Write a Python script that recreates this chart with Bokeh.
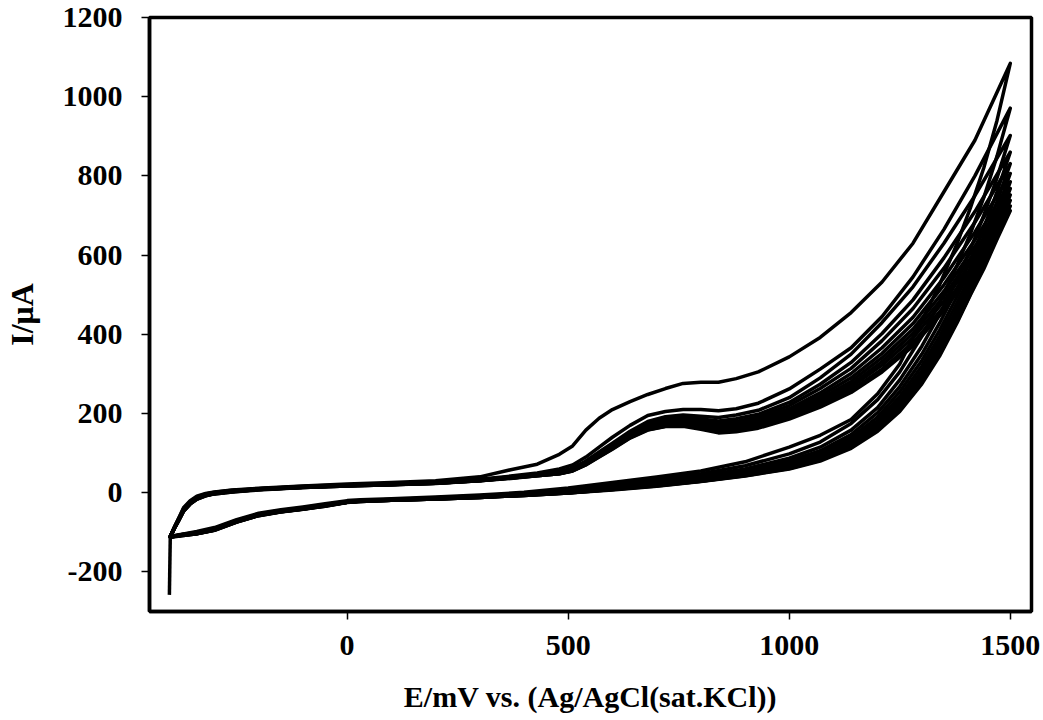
from bokeh.plotting import figure
from bokeh.models import Range1d, FixedTicker
from bokeh.embed import file_html
from bokeh.resources import INLINE

# Potential grids (mV vs Ag/AgCl) for the anodic and cathodic sweeps
fwd_E = [-400, -390, -380, -370, -355, -340, -320, -300, -260, -200, -100, 0,
         100, 200, 300, 370, 430, 480, 510, 540, 570, 600, 640, 680, 720, 760,
         800, 840, 880, 930, 1000, 1070, 1140, 1210, 1280, 1350, 1420, 1500]
rev_E = [1500, 1470, 1440, 1410, 1380, 1340, 1300, 1250, 1200, 1140, 1070,
         1000, 900, 800, 700, 600, 500, 400, 300, 200, 100, 30, 0, -50, -100,
         -150, -200, -250, -300, -340, -370, -390, -400]

# Initial potential step at the start of the first scan
start_E = [-402, -400]
start_I = [-258, -110]

# Current (uA) on the anodic sweep of each cycle
fwd_I = [
    [-110, -85, -62, -38, -20, -9, -2, 2, 7, 11, 17, 22, 26, 30, 40, 58, 72, 97, 118, 158, 188, 210, 230, 248, 263, 276, 279, 279, 288, 305, 343, 392, 455, 532, 630, 760, 890, 1084],
    [-110, -86, -63, -40, -22, -11, -3, 1, 6, 10, 16, 20, 23, 27, 34, 42, 50, 60, 70, 90, 115, 140, 170, 195, 205, 210, 210, 207, 212, 226, 262, 312, 366, 445, 545, 665, 800, 971],
    [-110, -86, -64, -42, -24, -12, -4, 0, 5, 10, 15, 19, 22, 26, 33, 40, 47, 53, 62, 80, 103, 125, 155, 180, 192, 196, 193, 190, 196, 208, 240, 290, 350, 430, 520, 630, 750, 902],
    [-110, -86, -65, -43, -25, -13, -4, 0, 5, 10, 15, 19, 22, 26, 33, 40, 46, 52, 60, 78, 100, 122, 151, 175, 186, 190, 186, 181, 187, 198, 228, 274, 329, 402, 487, 593, 710, 860],
    [-111, -87, -65, -44, -25, -13, -5, -1, 4, 9, 15, 19, 22, 25, 32, 39, 46, 51, 59, 76, 98, 119, 149, 172, 183, 186, 181, 176, 180, 191, 220, 263, 314, 384, 465, 567, 683, 831],
    [-111, -87, -66, -44, -26, -14, -5, -1, 4, 9, 14, 18, 21, 25, 32, 39, 45, 50, 58, 75, 96, 117, 146, 169, 179, 182, 176, 170, 175, 185, 212, 252, 301, 366, 443, 543, 658, 806],
    [-111, -87, -66, -45, -26, -14, -6, -1, 4, 9, 14, 18, 21, 25, 31, 38, 45, 50, 58, 74, 95, 116, 144, 166, 176, 179, 173, 166, 170, 180, 207, 244, 290, 352, 427, 525, 638, 785],
    [-111, -88, -67, -45, -27, -15, -6, -2, 3, 8, 14, 18, 21, 24, 31, 38, 44, 49, 57, 73, 94, 114, 143, 164, 174, 176, 170, 162, 166, 176, 202, 237, 281, 341, 413, 509, 622, 768],
    [-112, -88, -67, -46, -27, -15, -7, -2, 3, 8, 14, 18, 21, 24, 31, 37, 44, 49, 56, 72, 93, 113, 142, 163, 172, 174, 167, 159, 163, 172, 197, 232, 273, 331, 402, 496, 608, 752],
    [-112, -88, -68, -46, -28, -16, -7, -2, 3, 8, 13, 17, 20, 24, 30, 37, 43, 48, 56, 71, 92, 112, 140, 161, 170, 172, 165, 156, 160, 169, 194, 226, 267, 322, 391, 484, 595, 738],
    [-112, -89, -68, -47, -28, -16, -8, -3, 2, 8, 13, 17, 20, 24, 30, 37, 43, 48, 55, 71, 91, 111, 139, 159, 168, 170, 162, 153, 157, 165, 189, 220, 259, 312, 379, 470, 581, 724],
    [-112, -89, -69, -47, -29, -17, -8, -3, 2, 7, 13, 17, 20, 23, 30, 36, 43, 48, 55, 70, 90, 110, 138, 158, 167, 168, 160, 151, 154, 163, 186, 216, 253, 305, 370, 460, 570, 712],
]

# Current (uA) on the cathodic sweep of each cycle
rev_I = [
    [1084, 940, 820, 720, 630, 525, 435, 325, 250, 185, 145, 115, 78, 55, 40, 26, 12, 1, -6, -11, -15, -18, -20, -28, -36, -43, -52, -68, -88, -98, -104, -108, -110],
    [971, 850, 745, 655, 575, 480, 395, 305, 235, 175, 128, 98, 68, 48, 34, 22, 9, -1, -8, -13, -17, -20, -22, -30, -38, -45, -54, -70, -90, -100, -105, -109, -110],
    [902, 795, 700, 615, 540, 450, 370, 285, 215, 158, 115, 87, 60, 42, 29, 18, 6, -3, -9, -14, -17, -20, -23, -31, -39, -46, -55, -71, -91, -101, -105, -109, -111],
    [860, 760, 668, 588, 515, 428, 350, 268, 202, 147, 106, 80, 55, 38, 26, 15, 4, -4, -10, -14, -18, -21, -23, -31, -39, -46, -55, -71, -91, -101, -106, -109, -111],
    [831, 735, 645, 567, 496, 410, 334, 255, 191, 139, 100, 75, 52, 35, 24, 13, 3, -5, -10, -15, -18, -21, -23, -32, -40, -46, -56, -72, -92, -102, -106, -110, -111],
    [806, 712, 625, 550, 480, 395, 320, 243, 182, 132, 95, 71, 49, 33, 22, 12, 2, -5, -11, -15, -18, -21, -24, -32, -40, -47, -56, -72, -92, -102, -106, -110, -111],
    [785, 695, 610, 535, 465, 382, 308, 233, 175, 127, 91, 68, 47, 32, 21, 11, 1, -6, -11, -15, -19, -21, -24, -32, -40, -47, -56, -72, -93, -102, -106, -110, -112],
    [768, 680, 597, 522, 453, 371, 299, 226, 169, 123, 88, 66, 46, 31, 20, 10, 0, -6, -11, -16, -19, -21, -24, -33, -41, -47, -57, -73, -93, -103, -107, -110, -112],
    [752, 667, 585, 512, 443, 362, 291, 219, 165, 119, 86, 64, 45, 30, 19, 9, 0, -6, -12, -16, -19, -21, -24, -33, -41, -48, -57, -73, -94, -103, -107, -110, -112],
    [738, 656, 576, 504, 436, 355, 285, 214, 161, 117, 84, 63, 44, 29, 18, 8, -1, -7, -12, -16, -19, -22, -24, -33, -41, -48, -57, -74, -94, -104, -107, -110, -112],
    [724, 648, 570, 502, 433, 350, 280, 209, 158, 114, 82, 61, 43, 29, 17, 8, -1, -7, -12, -16, -19, -22, -24, -34, -42, -48, -58, -74, -95, -104, -108, -110, -112],
    [712, 640, 565, 500, 430, 345, 275, 205, 155, 112, 80, 60, 42, 28, 16, 7, -1, -7, -12, -16, -19, -22, -25, -34, -42, -49, -58, -74, -95, -104, -108, -111, -112],
]

x_ticks = [0, 500, 1000, 1500]
y_ticks = [-200, 0, 200, 400, 600, 800, 1000, 1200]

FONT = "Liberation Serif"

p = figure(width=1043, height=720, output_backend="svg", toolbar_location=None,
           x_range=Range1d(-447, 1548), y_range=Range1d(-300, 1200),
           min_border_left=148, min_border_right=12, min_border_top=17,
           min_border_bottom=109)
p.background_fill_color = "white"
p.border_fill_color = "white"
p.grid.visible = False
p.outline_line_color = "black"
p.outline_line_width = 3.5

# Voltammogram: initial step, then one closed loop per cycle
p.line(start_E, start_I, line_color="black", line_width=3.5)
for f, r in zip(fwd_I, rev_I):
    p.line(fwd_E + rev_E, f + r, line_color="black", line_width=3.5,
           line_join="round", line_cap="round")

for ax in (p.xaxis[0], p.yaxis[0]):
    ax.axis_line_color = "black"
    ax.axis_line_width = 3.5
    ax.major_tick_in = 0
    ax.major_tick_out = 8
    ax.major_tick_line_width = 1.5
    ax.minor_tick_line_color = None
    ax.major_label_text_font = FONT
    ax.major_label_text_font_style = "bold"
    ax.major_label_text_font_size = "30px"
    ax.major_label_text_color = "black"
    ax.axis_label_text_font = FONT
    ax.axis_label_text_font_style = "bold"
    ax.axis_label_text_font_size = "30px"
    ax.axis_label_text_color = "black"

p.xaxis.ticker = FixedTicker(ticks=x_ticks)
p.yaxis.ticker = FixedTicker(ticks=y_ticks)
p.yaxis.major_label_overrides = {-200: "-200"}
p.xaxis.axis_label = "E/mV vs. (Ag/AgCl(sat.KCl))"
p.yaxis.axis_label = "I/μA"
p.yaxis.axis_label_text_font_size = "32px"
p.xaxis.major_label_standoff = 16
p.xaxis.axis_label_standoff = 22
p.yaxis.major_label_standoff = 19
p.yaxis.axis_label_standoff = 20

open("out.html", "w").write(file_html(p, INLINE))
